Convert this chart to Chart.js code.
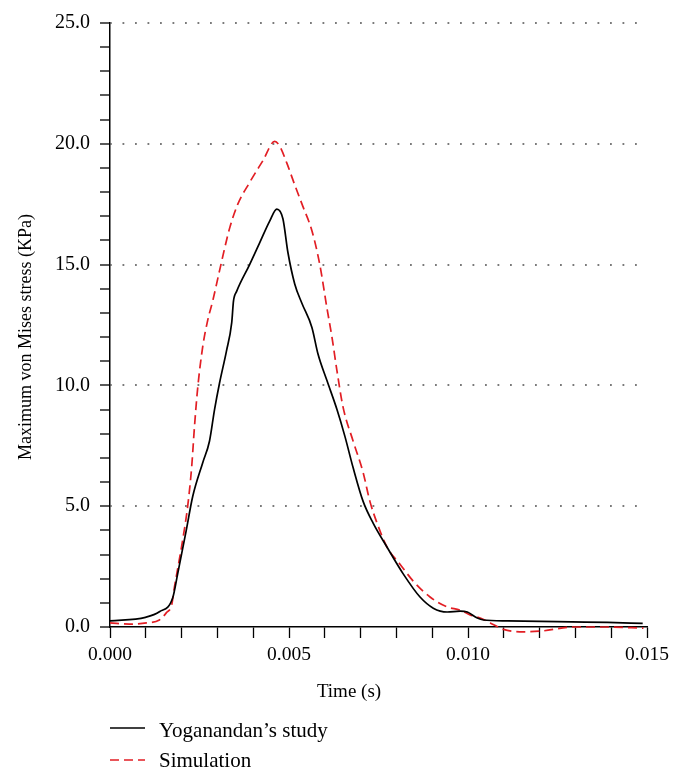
<!DOCTYPE html>
<html>
<head>
<meta charset="utf-8">
<script src="https://cdn.jsdelivr.net/npm/chart.js@4/dist/chart.umd.min.js"></script>
<style>
  html, body { margin: 0; padding: 0; background: #fff; }
  #wrap { width: 684px; height: 775px; }
</style>
</head>
<body>
<div id="wrap"><canvas id="stress"></canvas></div>
<script>
// Time (ms) / stress (KPa)
var studyTime = [0, 0.99, 1.38, 1.75, 1.89, 2.13, 2.31, 2.59, 2.78, 2.92, 3.06, 3.25, 3.40, 3.45, 3.54, 3.90, 4.18, 4.46, 4.66, 4.83, 4.97, 5.16, 5.36, 5.64, 5.81, 6.06, 6.34, 6.56, 6.79, 7.07, 7.35, 7.74, 8.19, 8.66, 9.03, 9.42, 9.78, 9.98, 10.26, 10.43, 11.1, 12.9, 13.9, 14.88];
var studyStress = [0.25, 0.4, 0.63, 1.2, 2.2, 4.0, 5.4, 6.8, 7.7, 9.0, 10.1, 11.4, 12.6, 13.5, 13.9, 15.0, 15.9, 16.8, 17.3, 16.9, 15.5, 14.2, 13.4, 12.4, 11.3, 10.2, 9.0, 7.9, 6.6, 5.2, 4.3, 3.3, 2.2, 1.24, 0.78, 0.62, 0.66, 0.62, 0.37, 0.29, 0.25, 0.21, 0.19, 0.15];

var simTime = [0, 0.54, 1.02, 1.38, 1.58, 1.72, 1.80, 2.03, 2.17, 2.28, 2.36, 2.45, 2.59, 2.73, 2.87, 3.06, 3.34, 3.57, 3.90, 4.27, 4.60, 4.74, 4.94, 5.16, 5.39, 5.64, 5.86, 6.06, 6.20, 6.34, 6.51, 6.79, 7.07, 7.26, 7.46, 7.74, 8.10, 8.47, 8.94, 9.42, 9.78, 10.06, 10.34, 10.62, 10.99, 11.55, 12.03, 12.95, 13.9, 14.9];
var simStress = [0.17, 0.12, 0.17, 0.29, 0.6, 0.9, 1.65, 3.6, 5.0, 6.6, 8.3, 9.9, 11.6, 12.7, 13.5, 14.75, 16.5, 17.5, 18.4, 19.3, 20.1, 19.9, 19.2, 18.3, 17.4, 16.4, 15.0, 13.2, 12.0, 10.6, 9.1, 7.7, 6.4, 5.2, 4.3, 3.3, 2.6, 1.9, 1.24, 0.83, 0.7, 0.5, 0.37, 0.17, -0.1, -0.2, -0.17, 0.0, 0.0, -0.05];

var xTicks = [0, 0.005, 0.010, 0.015];
var yTicks = [0, 5, 10, 15, 20, 25];

var serif = '"Liberation Serif", "DejaVu Serif", serif';

function toPoints(times, values) {
    return times.map(function (t, i) { return { x: t / 1000, y: values[i] }; });
}

// axis titles and the stacked legend under the plot
var extras = {
    id: 'extras',
    afterDraw: function (chart) {
        var ctx = chart.ctx;
        ctx.save();
        ctx.fillStyle = '#000';
        ctx.textAlign = 'center';
        ctx.textBaseline = 'alphabetic';
        ctx.font = '19px ' + serif;
        ctx.fillText('Time (s)', 349, 697);

        ctx.save();
        ctx.font = '18px ' + serif;
        ctx.translate(31, 337);
        ctx.rotate(-Math.PI / 2);
        ctx.fillText('Maximum von Mises stress (KPa)', 0, 0);
        ctx.restore();

        ctx.beginPath();
        ctx.rect(0, 0, 684, 772);
        ctx.clip();
        ctx.textAlign = 'left';
        ctx.font = '21px ' + serif;
        chart.data.datasets.forEach(function (ds, i) {
            var y = 728 + i * 32;
            ctx.beginPath();
            ctx.strokeStyle = ds.borderColor;
            ctx.lineWidth = ds.borderWidth;
            ctx.setLineDash(ds.borderDash || []);
            ctx.moveTo(110, y);
            ctx.lineTo(145, y);
            ctx.stroke();
            ctx.setLineDash([]);
            ctx.fillText(ds.label, 159, 737 + i * 30);
        });
        ctx.restore();
    }
};

var chart = new Chart(document.getElementById('stress'), {
    type: 'line',
    data: {
        datasets: [{
            label: 'Yoganandan\u2019s study',
            data: toPoints(studyTime, studyStress),
            borderColor: '#000',
            borderWidth: 1.7,
            pointRadius: 0,
            clip: false,
            cubicInterpolationMode: 'monotone'
        }, {
            label: 'Simulation',
            data: toPoints(simTime, simStress),
            borderColor: 'rgb(226, 30, 36)',
            borderWidth: 1.7,
            borderDash: [9, 5],
            pointRadius: 0,
            clip: false,
            cubicInterpolationMode: 'monotone'
        }]
    },
    options: {
        responsive: true,
        maintainAspectRatio: false,
        animation: false,
        layout: { padding: { top: 23, right: 37, bottom: 68, left: 0 } },
        plugins: { legend: { display: false }, tooltip: { enabled: false } },
        scales: {
            x: {
                type: 'linear',
                min: 0,
                max: 0.015,
                afterFit: function (s) { s.height = 80; s.paddingLeft = 0; s.paddingRight = 0; },
                ticks: {
                    stepSize: 0.001,
                    autoSkip: false,
                    maxRotation: 0,
                    padding: 5,
                    color: '#000',
                    font: { family: serif, size: 19.5 },
                    callback: function (v) {
                        var hit = xTicks.find(function (t) { return Math.abs(t - v) < 1e-9; });
                        return hit === undefined ? '' : hit.toFixed(3);
                    }
                },
                grid: { drawOnChartArea: false, tickLength: 11, tickColor: '#000', tickWidth: 1.3 },
                border: { color: '#000', width: 1.5 }
            },
            y: {
                min: 0,
                max: 25,
                afterFit: function (s) { s.width = 110; s.paddingTop = 0; s.paddingBottom = 0; },
                ticks: {
                    stepSize: 1,
                    autoSkip: false,
                    padding: 10,
                    color: '#000',
                    font: { family: serif, size: 20 },
                    callback: function (v) {
                        return yTicks.indexOf(v) >= 0 ? v.toFixed(1) : '';
                    }
                },
                grid: {
                    tickLength: 10,
                    tickColor: '#000',
                    tickWidth: 1.3,
                    lineWidth: 2,
                    color: function (c) {
                        var v = c.tick ? c.tick.value : 0;
                        return (v > 0 && yTicks.indexOf(v) >= 0) ? '#7a7a7a' : 'rgba(0,0,0,0)';
                    }
                },
                border: { color: '#000', width: 1.5, dash: [1.8, 10.7], dashOffset: -12 }
            }
        }
    },
    plugins: [extras]
});
</script>
</body>
</html>
